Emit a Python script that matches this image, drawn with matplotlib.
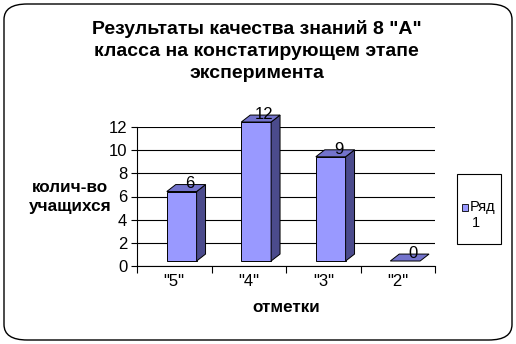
import matplotlib.pyplot as plt
from matplotlib.patches import FancyBboxPatch, Rectangle

# data
grades = ['"5"', '"4"', '"3"', '"2"']
students = [6, 12, 9, 0]
yticks = [0, 2, 4, 6, 8, 10, 12]

plt.rcParams['font.family'] = ['Liberation Sans', 'DejaVu Sans']

fig = plt.figure(figsize=(5.16, 3.44), dpi=100)
ax = fig.add_axes([137/516, 1-266/344, (435-137)/516, (266-127)/344])

front = '#9999FF'
top = '#7373CC'
side = '#4B4B8C'
base = 0.43   # front face floats a bit above the back wall zero line
dx, dy = 0.12, 0.6

for i, v in enumerate(students):
    x0, x1 = i - 0.1, i + 0.3
    y0, y1 = base, base + v
    if v > 0:
        ax.bar(x0, v, width=x1 - x0, bottom=y0, align='edge', color=front,
               edgecolor='black', linewidth=0.7, zorder=3, clip_on=False)
        ax.fill([x1, x1 + dx, x1 + dx, x1], [y0, y0 + dy, y1 + dy, y1],
                color=side, ec='black', lw=0.7, zorder=3, clip_on=False)
    ax.fill([x0, x1, x1 + dx, x0 + dx], [y1, y1, y1 + dy, y1 + dy],
            color=top, ec='black', lw=0.7, zorder=3, clip_on=False)
    ax.text(i + 0.15 + dx/2, v + 1.1, str(v), ha='center', va='center',
            fontsize=12, zorder=4, clip_on=False)

ax.set_xlim(-0.5, 3.5)
ax.set_ylim(0, 12)
ax.set_yticks(yticks)
ax.yaxis.grid(True, color='black', linewidth=0.8, zorder=0)
ax.set_axisbelow(True)
ax.set_xticks([-0.5, 0.5, 1.5, 2.5, 3.5])
ax.set_xticklabels([])
ax.set_xticks([0, 1, 2, 3], minor=True)
ax.set_xticklabels(grades, minor=True, fontsize=12)
ax.tick_params(axis='x', which='minor', length=0, pad=6)
ax.tick_params(axis='x', which='major', length=5, width=0.8, direction='out')
ax.tick_params(axis='y', length=4, width=0.8, labelsize=12, pad=3)
for s in ['top', 'right']:
    ax.spines[s].set_visible(False)
ax.spines['left'].set_linewidth(0.8)
ax.spines['bottom'].set_linewidth(0.8)

fig.text(0.497, 1-51/344, 'Результаты качества знаний 8 "А"\nкласса на констатирующем этапе\nэксперимента',
         ha='center', va='center', fontsize=14, fontweight='bold', linespacing=1.42)
fig.text(70/516, 1-197/344, 'колич-во\nучащихся', ha='center', va='center',
         fontsize=12.3, fontweight='bold', linespacing=1.3)
fig.text(286/516, 1-308/344, 'отметки', ha='center', va='center',
         fontsize=12.3, fontweight='bold')

# legend box
fig.patches.append(Rectangle((457/516, 1-244/344), 44/516, 70/344, transform=fig.transFigure,
                             fill=False, ec='black', lw=0.8))
fig.patches.append(Rectangle((462/516, 1-211/344), 6/516, 7/344, transform=fig.transFigure,
                             fc=front, ec='black', lw=0.6))
fig.text(470/516, 1-207/344, 'Ряд', ha='left', va='center', fontsize=10.5)
fig.text(476/516, 1-223/344, '1', ha='center', va='center', fontsize=10.5)

# rounded frame around the whole chart
fig.patches.append(FancyBboxPatch((4/516, 4/344), 508/516, 336/344,
                                  boxstyle='round,pad=0,rounding_size=0.045',
                                  transform=fig.transFigure, fill=False, ec='black', lw=1))

fig.savefig('out.png', dpi=100)
